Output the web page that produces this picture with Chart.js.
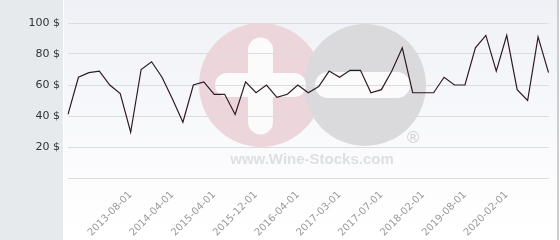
<!DOCTYPE html>
<html>
<head>
<meta charset="utf-8">
<script src="https://cdn.jsdelivr.net/npm/chart.js@4"></script>
<style>
  html, body { margin: 0; padding: 0; background: #ffffff; }
  #wrap { width: 560px; height: 240px; position: relative; }
</style>
</head>
<body>
<div id="wrap"><canvas id="c" width="560" height="240"></canvas></div>
<script>
// Category labels (only some are shown on the axis in the reference)
const categories = [
  '', '', '', '', '', '', '2013-08-01', '', '', '',
  '2014-04-01', '', '', '', '2015-04-01', '', '', '', '2015-12-01', '',
  '', '', '2016-04-01', '', '', '', '2017-03-01', '', '', '',
  '2017-07-01', '', '', '', '2018-02-01', '', '', '', '2019-08-01', '',
  '', '', '2020-02-01', '', '', '', ''
];
// Price values ($)
const prices = [
  41, 65, 68, 69, 60, 54.5, 29.5, 70, 75, 65,
  51, 36, 60, 62, 54, 54, 41, 62, 55, 60,
  52, 54, 60, 55, 59, 69, 65, 69.5, 69.5, 55,
  57, 69, 84, 55, 55, 55, 65, 60, 60, 84,
  92, 69, 92, 57, 50, 91, 68
];
const yTicks = [0, 20, 40, 60, 80, 100];
const currency = ' $';
const watermarkText = 'www.Wine-Stocks.com';

function roundRect(ctx, x, y, w, h, r) {
  ctx.beginPath();
  ctx.moveTo(x + r, y);
  ctx.lineTo(x + w - r, y);
  ctx.arc(x + w - r, y + r, r, -Math.PI / 2, Math.PI / 2);
  ctx.lineTo(x + r, y + h);
  ctx.arc(x + r, y + r, r, Math.PI / 2, Math.PI * 1.5);
  ctx.closePath();
  ctx.fill();
}

const backgroundPlugin = {
  id: 'bg',
  beforeDraw(chart) {
    const ctx = chart.ctx;
    const W = chart.width, H = chart.height;
    ctx.save();
    ctx.fillStyle = '#ffffff';
    ctx.fillRect(0, 0, W, H);
    // left grey panel
    ctx.fillStyle = '#e6eaed';
    ctx.fillRect(0, 0, 63, H);
    // gradient panel
    const g = ctx.createLinearGradient(0, 0, 0, H);
    g.addColorStop(0, '#eff1f6');
    g.addColorStop(0.8, '#fdfdfe');
    g.addColorStop(1, '#ffffff');
    ctx.fillStyle = g;
    ctx.fillRect(64, 0, 493, H);
    // right border
    ctx.fillStyle = '#cdcdcd';
    ctx.fillRect(557, 0, 2, H);

    // watermark
    ctx.fillStyle = '#ecd6dc';
    ctx.beginPath(); ctx.arc(261, 85, 62, 0, Math.PI * 2); ctx.fill();
    ctx.fillStyle = '#dadadc';
    ctx.beginPath(); ctx.arc(365, 85, 61, 0, Math.PI * 2); ctx.fill();
    ctx.fillStyle = '#fbfbfc';
    roundRect(ctx, 248, 38, 25, 96, 12.5); // plus vertical (approx as rounded)
    ctx.beginPath();
    ctx.moveTo(248, 50); ctx.arc(260.5, 50, 12.5, Math.PI, 0); ctx.lineTo(273, 122);
    ctx.arc(260.5, 122, 12.5, 0, Math.PI); ctx.closePath(); ctx.fill();
    roundRect(ctx, 215, 73, 91, 24, 12);   // plus horizontal
    roundRect(ctx, 315, 72, 95, 26, 13);   // minus
    ctx.fillStyle = '#dedfe0';
    ctx.font = 'bold 15px "Liberation Sans", Arial, sans-serif';
    ctx.textAlign = 'center';
    ctx.textBaseline = 'middle';
    ctx.fillText(watermarkText, 312, 160);
    ctx.fillStyle = '#d2d2d4';
    ctx.font = '16px "DejaVu Sans", sans-serif';
    ctx.fillText('\u00AE', 413, 139);
    ctx.restore();
  }
};

new Chart(document.getElementById('c'), {
  type: 'line',
  data: {
    labels: categories,
    datasets: [{
      data: prices,
      borderColor: '#2e1a23',
      borderWidth: 1.2,
      pointRadius: 0,
      tension: 0,
      fill: false
    }]
  },
  options: {
    responsive: false,
    animation: false,
    devicePixelRatio: 1,
    layout: { padding: { top: 23, right: 5, left: 0, bottom: 0 } },
    plugins: { legend: { display: false }, tooltip: { enabled: false } },
    scales: {
      x: {
        offset: false,
        grid: { display: false },
        border: { display: false },
        ticks: {
          autoSkip: false,
          minRotation: 45,
          maxRotation: 45,
          color: '#9a9a9a',
          font: { family: 'DejaVu Sans', size: 10 }
        },
        afterFit(scale) { scale.height = 62; }
      },
      y: {
        min: yTicks[0],
        max: yTicks[yTicks.length - 1],
        afterBuildTicks(scale) { scale.ticks = yTicks.map(v => ({ value: v })); },
        grid: { color: '#dcdcdc', lineWidth: 1, drawTicks: false },
        border: { display: false },
        ticks: {
          padding: 8,
          color: '#333333',
          font: { family: 'DejaVu Sans', size: 11 },
          callback: (v) => v === 0 ? '' : v + currency
        },
        afterFit(scale) { scale.width = 68; }
      }
    }
  },
  plugins: [backgroundPlugin]
});
</script>
</body>
</html>
